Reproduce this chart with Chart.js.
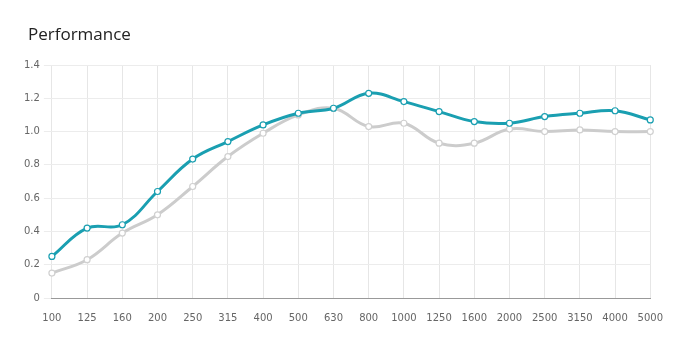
<!DOCTYPE html>
<html><head><meta charset="utf-8">
<script src="https://cdn.jsdelivr.net/npm/chart.js@4/dist/chart.umd.min.js"></script>
<style>
html,body{margin:0;padding:0;background:#fff;}
#wrap{position:relative;width:677px;height:351px;}
#title{position:absolute;left:28px;top:22px;font-family:"Open Sans",sans-serif;font-size:17px;color:#222;}
#cv{position:absolute;left:0;top:0;}
</style></head><body>
<div id="wrap"><canvas id="cv" width="677" height="351"></canvas><div id="title">Performance</div></div>
<script>
const categories = ["100","125","160","200","250","315","400","500","630","800","1000","1250","1600","2000","2500","3150","4000","5000"];
const seriesTeal = [0.25,0.42,0.44,0.64,0.835,0.94,1.04,1.11,1.14,1.23,1.18,1.12,1.06,1.05,1.09,1.11,1.125,1.07];
const seriesGray = [0.15,0.23,0.39,0.50,0.67,0.85,0.99,1.10,1.14,1.03,1.05,0.93,0.93,1.015,1.0,1.01,1.0,1.0];
const yTicks = [0,0.2,0.4,0.6,0.8,1.0,1.2,1.4];

new Chart(document.getElementById('cv'), {
  type: 'line',
  data: {
    labels: categories,
    datasets: [
      {data: seriesTeal, borderColor:'#1a9fb1', backgroundColor:'#fff', borderWidth:3, tension:0.4,
       pointRadius:3, pointBorderWidth:1.2, pointBackgroundColor:'#fff', pointBorderColor:'#1a9fb1', fill:false},
      {data: seriesGray, borderColor:'#cccccc', backgroundColor:'#fff', borderWidth:3, tension:0.4,
       pointRadius:3, pointBorderWidth:1.2, pointBackgroundColor:'#fff', pointBorderColor:'#d0d0d0', fill:false}
    ]
  },
  options: {
    responsive:false, animation:false,
    layout:{padding:{left:20,right:26,top:65,bottom:13}},
    plugins:{legend:{display:false}, tooltip:{enabled:false}},
    scales:{
      x:{offset:false, grid:{color:'#e6e6e6', drawTicks:false}, border:{color:'#999'},
         ticks:{color:'#666', font:{family:'"DejaVu Sans"', size:10}, padding:14, maxRotation:0, autoSkip:false}},
      y:{min:0, max:1.4, afterBuildTicks:(ax)=>{ax.ticks = yTicks.map(v=>({value:v}));},
         grid:{color:'#ececec', tickLength:8}, border:{display:false},
         ticks:{color:'#666', font:{family:'"DejaVu Sans"', size:10}, padding:4,
                callback:(v)=> v===0 ? '0' : v.toFixed(1)}}
    }
  }
});
</script>
</body></html>
